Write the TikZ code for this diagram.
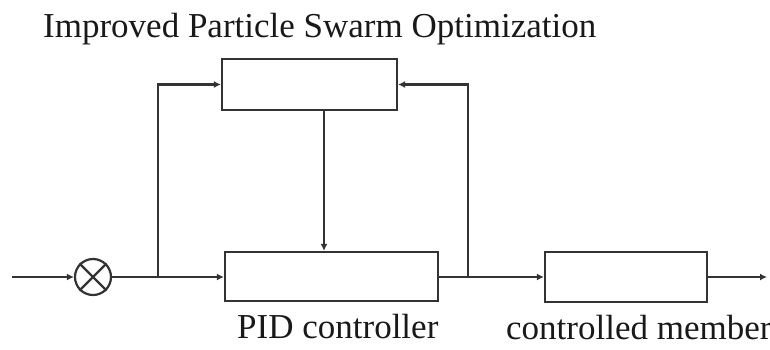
\documentclass[tikz,border=0pt]{standalone}
\usepackage{fontspec}
\setmainfont{Liberation Serif}
\newfontfamily\lblfont{Liberation Serif}
\usetikzlibrary{arrows.meta,calc}
\begin{document}
\begin{tikzpicture}[x=1pt,y=-1pt,
  blk/.style={draw=black!80,line width=2.2pt,inner sep=0pt},
  conn/.style={draw=black!80,line width=2.2pt},
  arr/.style={conn,-{Latex[length=7pt,width=7pt]}},
  lbl/.style={font=\lblfont\fontsize{35}{40}\selectfont,inner sep=0pt,text=black!90}]
\useasboundingbox (0,0) rectangle (770,349);
% blocks
\node[blk,minimum width=175pt,minimum height=51pt] (top) at (309.5,84.5) {};
\node[blk,minimum width=213pt,minimum height=49pt] (pid) at (331.5,276.5) {};
\node[blk,minimum width=162pt,minimum height=50pt] (plant) at (626,277) {};
\node[blk,circle,minimum size=36pt] (sum) at (93,277) {};
\draw[conn] (sum.45) -- (sum.225) (sum.135) -- (sum.315);
% coordinates
\coordinate (in) at (12,277);
\coordinate (jl) at (158,277);
\coordinate (jr) at (468,277);
\coordinate (v) at (324,0);
\coordinate (out) at (767,277);
% connectors
\draw[arr] (in) -- (sum.west);
\draw[conn] (sum.east) -- (jl);
\draw[arr] (jl) -- (pid.west |- jl);
\draw[arr] (jl) |- (top.west);
\draw[arr] (top.south -| v) -- (pid.north -| v);
\draw[conn] (pid.east |- jr) -- (jr);
\draw[arr] (jr) -- (plant.west |- jr);
\draw[arr] (jr) |- (top.east);
\draw[arr] (plant.east) -- (out);
% labels
\node[lbl,anchor=base west] (t1) at (43,37) {Improved Particle Swarm Optimization};
\node[lbl,anchor=base west] (t2) at (237,338) {PID controller};
\node[lbl,anchor=base west] (t3) at (506,339) {controlled member};
\end{tikzpicture}
\end{document}
